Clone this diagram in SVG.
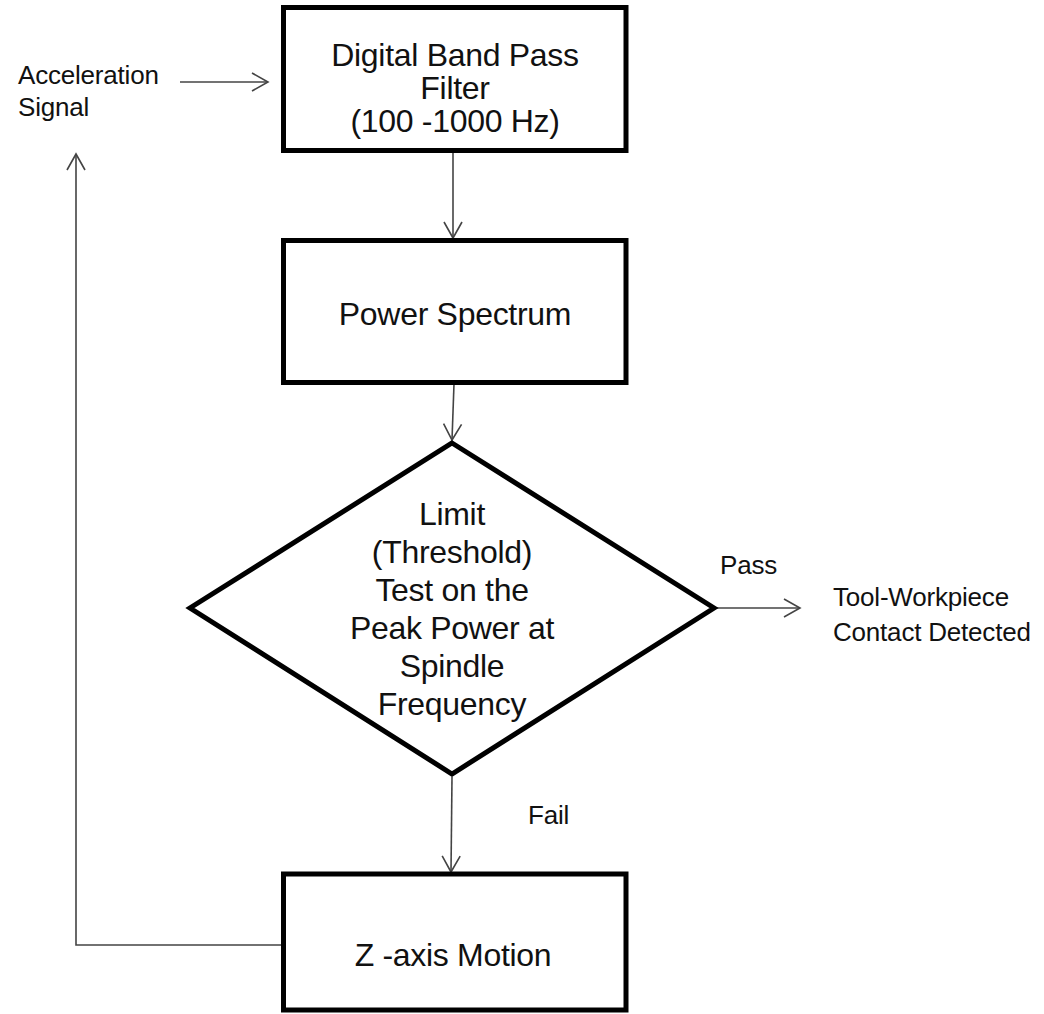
<svg xmlns="http://www.w3.org/2000/svg" width="1044" height="1014" viewBox="0 0 1044 1014">
<defs>
<style>
.node{fill:#fff;stroke:#000;stroke-width:5}
.t{font-family:"Liberation Sans",Arial,sans-serif;fill:#111;text-anchor:middle}
.big{font-size:32px;letter-spacing:-0.3px}
.small{font-size:26px;letter-spacing:-0.2px}
.edge{fill:none;stroke:#444;stroke-width:1.6}
</style>
<marker id="arr" viewBox="0 0 20 20" refX="18" refY="10" markerWidth="20" markerHeight="20" markerUnits="userSpaceOnUse" orient="auto">
<path d="M2,1 L18,10 L2,19" fill="none" stroke="#444" stroke-width="1.6"/>
</marker>
</defs>
<rect width="1044" height="1014" fill="#fff"/>
<g id="connectors">
<line class="edge" x1="180" y1="82" x2="268" y2="82" marker-end="url(#arr)"/>
<line class="edge" x1="453" y1="151" x2="453" y2="238" marker-end="url(#arr)"/>
<line class="edge" x1="454" y1="384" x2="452" y2="440" marker-end="url(#arr)"/>
<line class="edge" x1="716" y1="608" x2="800" y2="608" marker-end="url(#arr)"/>
<line class="edge" x1="452" y1="777" x2="451" y2="872" marker-end="url(#arr)"/>
<polyline class="edge" points="281,945 76,945 76,154" marker-end="url(#arr)"/>
</g>
<g id="label-accel">
<text class="t small" style="text-anchor:start" x="18" y="84">Acceleration</text>
<text class="t small" style="text-anchor:start" x="18" y="116">Signal</text>
</g>
<g id="node-filter">
<rect class="node" x="283.5" y="7.5" width="342.5" height="143"/>
<text class="t big" x="455" y="66">Digital Band Pass</text>
<text class="t big" x="455" y="99">Filter</text>
<text class="t big" x="455" y="132">(100 -1000 Hz)</text>
</g>
<g id="node-spectrum">
<rect class="node" x="283.5" y="240.5" width="342.5" height="142"/>
<text class="t big" x="455" y="325">Power Spectrum</text>
</g>
<g id="node-test">
<polygon class="node" points="452,443 714,608 452,774 190,608"/>
<text class="t big" x="452" y="525">Limit</text>
<text class="t big" x="452" y="563">(Threshold)</text>
<text class="t big" x="452" y="601">Test on the</text>
<text class="t big" x="452" y="639">Peak Power at</text>
<text class="t big" x="452" y="677">Spindle</text>
<text class="t big" x="452" y="715">Frequency</text>
</g>
<g id="label-pass">
<text class="t small" style="text-anchor:start" x="720" y="574">Pass</text>
</g>
<g id="node-contact">
<text class="t small" style="text-anchor:start" x="833" y="606">Tool-Workpiece</text>
<text class="t small" style="text-anchor:start" x="833" y="641">Contact Detected</text>
</g>
<g id="label-fail">
<text class="t small" style="text-anchor:start" x="528" y="824">Fail</text>
</g>
<g id="node-motion">
<rect class="node" x="283.5" y="874" width="342.5" height="136"/>
<text class="t big" x="453" y="966">Z -axis Motion</text>
</g>
</svg>
